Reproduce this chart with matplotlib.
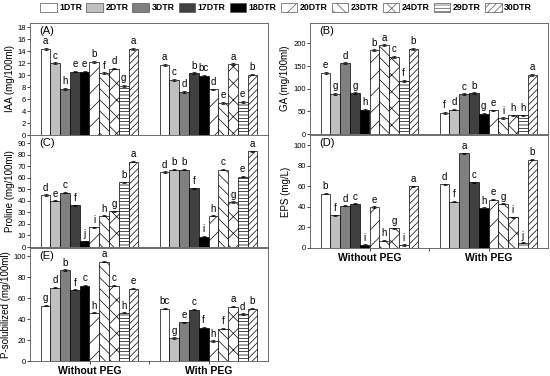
import matplotlib.pyplot as plt
from matplotlib.patches import Patch
import numpy as np

plt.rcParams['font.family'] = ['Liberation Sans', 'DejaVu Sans']
plt.rcParams['hatch.linewidth'] = 0.5

strains = ['1DTR', '2DTR', '3DTR', '17DTR', '18DTR', '20DTR', '23DTR', '24DTR', '29DTR', '30DTR']
groups = ['Without PEG', 'With PEG']

# values, [without PEG, with PEG]
iaa = [[14.4, 12.0, 7.7, 10.6, 10.6, 12.2, 10.3, 11.1, 8.2, 14.4],
       [11.7, 9.2, 7.2, 10.3, 9.9, 7.6, 5.4, 11.8, 5.5, 10.1]]
iaa_let = [['a', 'c', 'h', 'e', 'e', 'b', 'f', 'd', 'g', 'a'],
           ['a', 'c', 'd', 'b', 'bc', 'd', 'e', 'a', 'e', 'b']]
ga = [[135, 89, 156, 90, 53, 185, 196, 170, 117, 188],
      [47, 54, 88, 90, 45, 52, 35, 41, 41, 131]]
ga_let = [['e', 'g', 'd', 'g', 'h', 'b', 'a', 'c', 'f', 'b'],
          ['f', 'd', 'c', 'b', 'g', 'e', 'i', 'h', 'h', 'a']]
pro = [[45, 40, 47, 36, 5, 17, 27, 31, 56, 74],
       [65, 67, 67, 51, 9, 27, 67, 39, 61, 83]]
pro_let = [['d', 'e', 'c', 'f', 'j', 'i', 'h', 'g', 'b', 'a'],
           ['d', 'b', 'b', 'f', 'i', 'h', 'c', 'g', 'e', 'a']]
eps = [[53, 32, 41, 43, 3, 40, 7, 19, 3, 60],
       [62, 45, 92, 64, 39, 47, 43, 30, 5, 86]]
eps_let = [['b', 'f', 'd', 'c', 'i', 'e', 'h', 'g', 'i', 'a'],
           ['d', 'f', 'a', 'c', 'h', 'e', 'g', 'i', 'j', 'b']]
psol = [[53, 70, 87, 68, 72, 46, 95, 72, 46, 69],
        [50, 22, 37, 49, 32, 19, 31, 52, 45, 50]]
psol_let = [['g', 'd', 'b', 'f', 'c', 'h', 'a', 'c', 'h', 'e'],
            ['bc', 'g', 'e', 'c', 'f', 'h', 'f', 'a', 'd', 'b']]

colors = ['white', '#c0c0c0', '#808080', '#404040', 'black',
          'white', 'white', 'white', 'white', 'white']
hatches = [None, None, None, None, None, '//', '\\\\\\', 'xx', '-----', '/////']

W, H = 550, 376
fig = plt.figure(figsize=(W / 100, H / 100), dpi=100)


def px_axes(x0, y0, x1, y1):
    return fig.add_axes([x0 / W, 1 - y1 / H, (x1 - x0) / W, (y1 - y0) / H])


panels = [
    (px_axes(30, 23, 268, 135), iaa, iaa_let, 'IAA (mg/100ml)', '(A)', 18.7, 2, 0.15, False),
    (px_axes(310, 23, 548, 134), ga, ga_let, 'GA (mg/100ml)', '(B)', 245, 50, 2, False),
    (px_axes(30, 135, 268, 247), pro, pro_let, 'Proline (mg/100ml)', '(C)', 97, 10, 0.5, False),
    (px_axes(310, 135, 548, 248), eps, eps_let, 'EPS (mg/L)', '(D)', 110, 20, 0.6, True),
    (px_axes(30, 248, 268, 361), psol, psol_let, 'P-solubilized (mg/100ml)', '(E)', 108, 20, 0.6, True),
]

bw = 0.082
offs = (np.arange(10) - 4.5) * bw
for ax, data, lets, ylab, tag, ytop, ystep, err, xlab in panels:
    for g in range(2):
        for i in range(10):
            x = g + 1 + offs[i]
            v = data[g][i]
            ax.bar(x, v, bw, color=colors[i], edgecolor='black', linewidth=0.5,
                   hatch=hatches[i], yerr=err, error_kw=dict(elinewidth=0.5, capsize=1.5, capthick=0.5))
            ax.text(x, v + err + ytop * 0.015, lets[g][i], ha='center', va='bottom', fontsize=7)
    ax.set_xlim(0.5, 2.5)
    ax.set_ylim(0, ytop)
    ax.set_yticks(np.arange(0, ytop, ystep))
    ax.set_xticks([1, 1.5, 2])
    if xlab:
        ax.set_xticklabels([groups[0], '', groups[1]], fontsize=7.5, fontweight='bold')
    else:
        ax.set_xticklabels([])
    ax.tick_params(axis='both', labelsize=5.5, length=2, width=0.5, pad=1)
    ax.tick_params(axis='x', labelsize=7.5, pad=1.5)
    ax.set_ylabel(ylab, fontsize=7, labelpad=2)
    ax.text(0.04, 0.97, tag, transform=ax.transAxes, ha='left', va='top', fontsize=8)
    for s in ax.spines.values():
        s.set_linewidth(0.6)
        s.set_color('#555555')

handles = [Patch(facecolor=colors[i], edgecolor='#555555', linewidth=0.5, hatch=hatches[i])
           for i in range(10)]
fig.legend(handles, strains, loc='center', bbox_to_anchor=(0.52, 0.979), ncol=10,
           frameon=False, prop=dict(size=6.3, weight='bold'), handlelength=1.9,
           handleheight=1.1, handletextpad=0.3, columnspacing=0.45, borderpad=0)

fig.savefig('out.png', dpi=100)
